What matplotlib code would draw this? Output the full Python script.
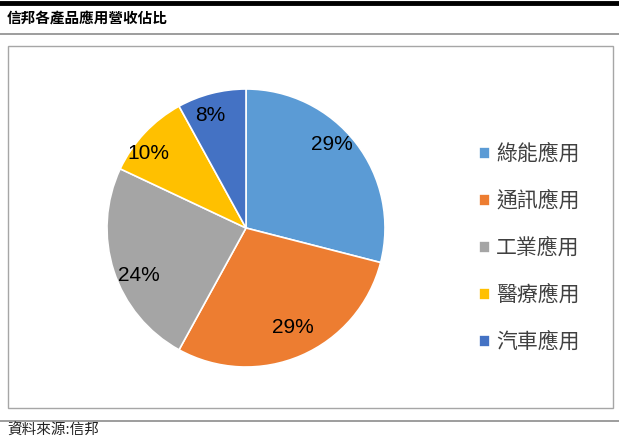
import matplotlib
matplotlib.use('Agg')
import numpy as np
import matplotlib.pyplot as plt
from matplotlib.patches import Rectangle
from matplotlib.lines import Line2D

plt.rcParams['font.family'] = ['Noto Sans CJK TC', 'DejaVu Sans']

# data
categories = ['綠能應用', '通訊應用', '工業應用', '醫療應用', '汽車應用']
shares = [29, 29, 24, 10, 8]
colors = ['#5B9BD5', '#ED7D31', '#A5A5A5', '#FFC000', '#4472C4']
title = '信邦各產品應用營收佔比'
source = '資料來源:信邦'

# excel "best fit" label placement: angle shift (deg) from wedge middle, radius fraction
label_shift = [7, 2, 5, 5, 3]
label_dist = [0.87, 0.78, 0.835, 0.89, 0.86]

W, H = 619, 442
fig = plt.figure(figsize=(W / 100, H / 100), dpi=100)

def fx(px):
    return px / W

def fy(py):
    return 1 - py / H

# header / footer rules
fig.add_artist(Line2D([0, 1], [fy(3), fy(3)], color='black', lw=3.5))
fig.add_artist(Line2D([0, 1], [fy(34), fy(34)], color='#8c8c8c', lw=1.2))
fig.add_artist(Line2D([0, 1], [fy(421), fy(421)], color='#8c8c8c', lw=1.2))
fig.text(fx(7), fy(18), title, fontsize=10.5, fontweight='bold', va='center', ha='left')
fig.text(fx(7), fy(431), source, fontsize=10.5, va='center', ha='left', color='#222222')

# chart frame
fig.add_artist(Rectangle((fx(8), fy(408)), fx(613) - fx(8), fy(46) - fy(408),
                         transform=fig.transFigure, fill=False, edgecolor='#a6a6a6', lw=1.0))

# pie
cx, cy, r = 246, 228, 139
ax = fig.add_axes([fx(cx - r), fy(cy + r), 2 * r / W, 2 * r / H])
wedges, texts, autotexts = ax.pie(shares, colors=colors, startangle=90, counterclock=False,
                                  autopct='%d%%',
                                  wedgeprops=dict(edgecolor='white', linewidth=1.2),
                                  textprops=dict(fontsize=15, color='black',
                                                 family=['Liberation Sans', 'DejaVu Sans']))
for w, t, s, d in zip(wedges, autotexts, label_shift, label_dist):
    mid = np.deg2rad((w.theta1 + w.theta2) / 2 + s)
    t.set_position((d * np.cos(mid), d * np.sin(mid)))
    t.set_va('center_baseline')
ax.set_xlim(-1, 1)
ax.set_ylim(-1, 1)
ax.set_aspect('equal')

fig.legend(wedges, categories, loc='center left', bbox_to_anchor=(fx(471), fy(248)),
           frameon=False, fontsize=15, handlelength=0.5, handleheight=0.5,
           handletextpad=0.3, labelspacing=1.2, borderaxespad=0, labelcolor='#404040')

fig.savefig('out.png', dpi=100)
